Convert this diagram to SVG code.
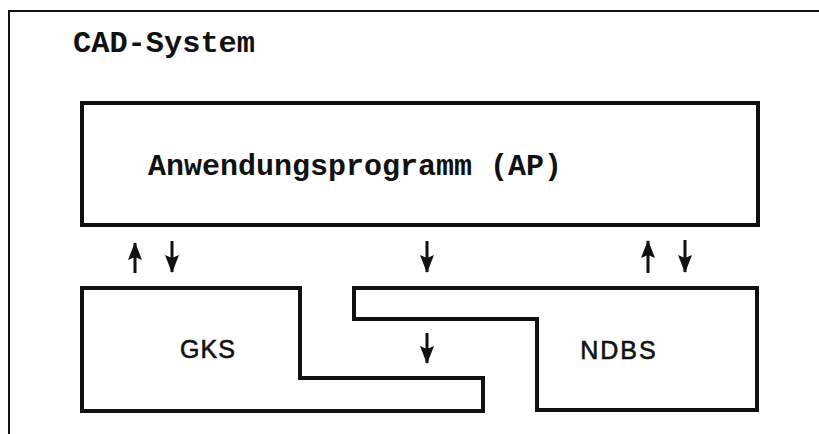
<svg xmlns="http://www.w3.org/2000/svg" width="819" height="434" viewBox="0 0 819 434">
<defs>
<style>
.box{fill:none;stroke:#111;stroke-width:4;stroke-linejoin:miter}
.frame{fill:none;stroke:#111;stroke-width:2}
.mono{font-family:"Liberation Mono","DejaVu Sans Mono",monospace;font-weight:bold;font-size:29px;fill:#111}
.sans{font-family:"Liberation Sans","DejaVu Sans",sans-serif;font-size:25px;fill:#111;stroke:#111;stroke-width:0.6}
.arr{stroke:#111;stroke-width:3;fill:none}
</style>
<marker id="ah" markerWidth="18" markerHeight="14" refX="17" refY="7" orient="auto-start-reverse" markerUnits="userSpaceOnUse" viewBox="0 0 18 14">
<path d="M0,0 L18,7 L0,14 L3,7 Z" fill="#111"/>
</marker>
</defs>
<rect width="819" height="434" fill="#fff"/>
<g id="cad-system">
<path class="frame" d="M9,434 V11 H819"/>
<text class="mono" x="73" y="52" textLength="182" lengthAdjust="spacingAndGlyphs">CAD-System</text>
</g>
<g id="ap">
<rect class="box" x="82" y="103" width="676" height="122"/>
<text class="mono" x="148" y="175" textLength="414" lengthAdjust="spacingAndGlyphs">Anwendungsprogramm (AP)</text>
</g>
<g id="gks">
<path class="box" d="M82,288 H300 V378 H483 V411 H82 Z"/>
<text class="sans" x="208" y="358" text-anchor="middle" letter-spacing="1">GKS</text>
</g>
<g id="ndbs">
<path class="box" d="M354,288 H757 V410 H537 V319 H354 Z"/>
<text class="sans" x="619" y="359" text-anchor="middle" letter-spacing="2">NDBS</text>
</g>
<g id="connectors">
<path class="arr" d="M135,273 V243" marker-end="url(#ah)"/>
<path class="arr" d="M172,241 V272" marker-end="url(#ah)"/>
<path class="arr" d="M427,241 V272" marker-end="url(#ah)"/>
<path class="arr" d="M427,333 V363" marker-end="url(#ah)"/>
<path class="arr" d="M648,273 V241" marker-end="url(#ah)"/>
<path class="arr" d="M685,240 V272" marker-end="url(#ah)"/>
</g>
</svg>
